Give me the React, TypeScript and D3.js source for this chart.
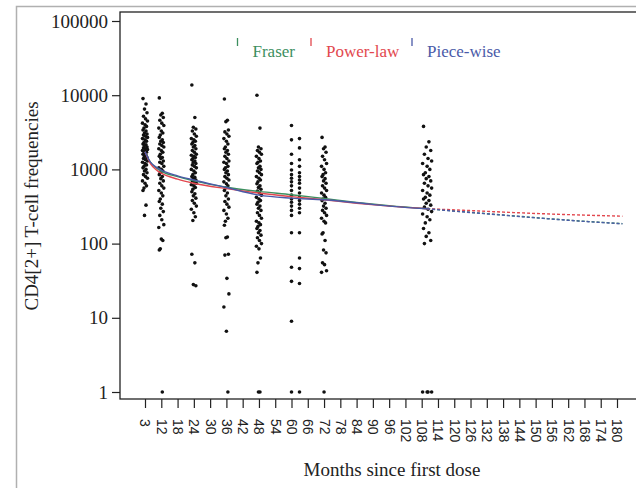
import React, { useEffect, useRef } from "react";
import * as d3 from "d3";

const width = 636;
const height = 488;
const box = { left: 120, top: 12, right: 642, bottom: 399 };
const serif = "Liberation Serif, Times New Roman, serif";

// x tick labels (months)
const tickMonths = [3, 12, 18, 24, 30, 36, 42, 48, 54, 60, 66, 72, 78, 84, 90, 96, 102, 108, 114, 120, 126, 132, 138, 144, 150, 156, 162, 168, 174, 180];
const yTicks = [1, 10, 100, 1000, 10000, 100000];

// observed frequencies per visit
const visits = [3, 12, 24, 36, 48, 60, 72, 110];
const obs3 = [9000, 7600, 6500, 5800, 5200, 4800, 4500, 4200, 4000, 3800, 3600, 3400, 3300, 3100, 3000, 2900, 2800, 2700, 2600, 2500, 2400, 2300, 2200, 2150, 2100, 2000, 1950, 1900, 1850, 1800, 1750, 1700, 1650, 1600, 1550, 1500, 1450, 1400, 1350, 1300, 1250, 1200, 1150, 1100, 1050, 1000, 950, 900, 850, 800, 760, 700, 650, 600, 560, 520, 330, 240];
const obs12 = [9200, 5700, 5400, 5000, 4600, 4200, 3900, 3600, 3300, 3100, 2900, 2700, 2500, 2400, 2300, 2200, 2100, 2000, 1900, 1800, 1700, 1600, 1500, 1450, 1400, 1300, 1250, 1200, 1100, 1050, 1000, 950, 900, 850, 800, 750, 700, 650, 600, 560, 520, 480, 440, 400, 370, 340, 300, 270, 240, 210, 180, 165, 115, 110, 85, 82, 1];
const obs24 = [13700, 5000, 3700, 3500, 3300, 3000, 2800, 2600, 2500, 2400, 2300, 2200, 2100, 2000, 1900, 1800, 1700, 1600, 1550, 1500, 1450, 1400, 1350, 1300, 1250, 1200, 1150, 1100, 1050, 1000, 950, 900, 850, 800, 780, 750, 720, 700, 680, 650, 620, 600, 570, 540, 500, 470, 440, 410, 380, 350, 320, 290, 260, 230, 205, 72, 55, 28, 27];
const obs36 = [8900, 4600, 4400, 3400, 3200, 3000, 2800, 2600, 2400, 2200, 2000, 1900, 1800, 1700, 1600, 1500, 1400, 1300, 1250, 1200, 1100, 1050, 1000, 950, 900, 850, 800, 760, 720, 680, 640, 600, 560, 520, 480, 440, 400, 370, 340, 310, 280, 250, 220, 200, 177, 123, 120, 72, 70, 34, 21, 14, 6.6, 1];
const obs48 = [10000, 3600, 2000, 1900, 1800, 1700, 1600, 1500, 1400, 1300, 1250, 1200, 1100, 1050, 1000, 950, 900, 850, 800, 760, 720, 680, 640, 600, 570, 540, 510, 480, 450, 420, 400, 380, 360, 340, 320, 300, 280, 260, 240, 220, 200, 190, 180, 170, 160, 150, 140, 130, 120, 110, 100, 92, 85, 64, 55, 41, 1, 1];
const obs60 = [3900, 2600, 2500, 1950, 1600, 1350, 1200, 1100, 980, 900, 850, 800, 760, 720, 680, 650, 600, 560, 520, 480, 450, 420, 400, 380, 360, 340, 320, 300, 280, 260, 240, 140, 140, 64, 48, 46, 31, 29, 9, 1, 1];
const obs72 = [2700, 2000, 1900, 1700, 1500, 1350, 1200, 1100, 1000, 900, 850, 800, 750, 700, 650, 600, 560, 520, 480, 450, 420, 400, 380, 350, 320, 300, 280, 260, 240, 220, 200, 190, 140, 135, 110, 82, 75, 55, 52, 43, 41, 1];
const obs108 = [3800, 2350, 2000, 1800, 1600, 1400, 1300, 1200, 1100, 1000, 900, 850, 800, 750, 700, 650, 600, 560, 520, 480, 450, 420, 400, 380, 350, 330, 310, 290, 270, 250, 230, 210, 190, 160, 140, 125, 110, 100, 1, 1, 1, 1];
const observed = [obs3, obs12, obs24, obs36, obs48, obs60, obs72, obs108];

// model fits: solid over observed range, dashed = extrapolation
const fitMonths = [3, 6, 9, 12, 18, 24, 36, 48, 60, 72, 84, 96, 110];
const fraserFit = [1730, 1250, 1050, 940, 800, 700, 575, 505, 455, 405, 360, 325, 295];
const powerFit = [1730, 1200, 1000, 890, 740, 650, 550, 480, 430, 390, 350, 320, 295];
const pieceFit = [1730, 1250, 1080, 980, 820, 720, 570, 450, 410, 390, 355, 320, 295];
const extMonths = [110, 120, 132, 144, 156, 168, 182];
const fraserExt = [295, 275, 253, 233, 215, 200, 186];
const powerExt = [295, 285, 272, 260, 250, 242, 234];
const pieceExt = [295, 274, 252, 232, 214, 199, 185];

const models = [
  { name: "Fraser", color: "#3d8f5f", fit: fraserFit, ext: fraserExt },
  { name: "Power-law", color: "#e2474e", fit: powerFit, ext: powerExt },
  { name: "Piece-wise", color: "#4a5aa8", fit: pieceFit, ext: pieceExt },
];

const jitter = [-2, 1, -0.5, 2, -1.5, 0.5, 2.5, -2.5, 0, 1.5, -1];

export default function App() {
  const ref = useRef<SVGSVGElement>(null);

  useEffect(() => {
    const svg = d3.select(ref.current);
    svg.selectAll("*").remove();

    const x = d3.scaleLinear().domain([3, 12, 180]).range([145, 161.3, 617]);
    const y = d3.scaleLog().domain([1, 100000]).range([392, 21]);

    // outer frame
    svg
      .append("rect")
      .attr("x", 16.5)
      .attr("y", 6.5)
      .attr("width", 640)
      .attr("height", 500)
      .attr("fill", "white")
      .attr("stroke", "#b0b0b0")
      .attr("stroke-width", 1.5);

    // plot box
    svg
      .append("rect")
      .attr("x", box.left)
      .attr("y", box.top)
      .attr("width", box.right - box.left)
      .attr("height", box.bottom - box.top)
      .attr("fill", "none")
      .attr("stroke", "#222")
      .attr("stroke-width", 1.3);

    // y axis
    const yAxis = svg
      .append("g")
      .attr("transform", `translate(${box.left},0)`)
      .call(
        d3
          .axisLeft(y)
          .tickValues(yTicks)
          .tickSize(8)
          .tickPadding(4)
          .tickFormat(d3.format("d"))
      )
      .attr("font-family", serif)
      .attr("font-size", 19);
    yAxis.select(".domain").remove();
    yAxis.selectAll("line").attr("stroke", "#222").attr("stroke-width", 1.2);
    yAxis.selectAll("text").attr("fill", "#222");

    // x axis
    const xAxis = svg
      .append("g")
      .attr("transform", `translate(0,${box.bottom})`)
      .call(d3.axisBottom(x).tickValues(tickMonths).tickSize(9).tickFormat(d3.format("d")))
      .attr("font-family", "Liberation Sans, Arial, sans-serif")
      .attr("font-size", 14);
    xAxis.select(".domain").remove();
    xAxis.selectAll("line").attr("stroke", "#222").attr("stroke-width", 1.2);
    xAxis
      .selectAll("text")
      .attr("transform", "rotate(90)")
      .attr("x", 20)
      .attr("y", 0)
      .attr("dy", "0.36em")
      .attr("text-anchor", "start")
      .attr("fill", "#222");

    // scatter
    const pts = svg.append("g");
    visits.forEach((m, vi) => {
      pts
        .selectAll(null)
        .data(observed[vi])
        .enter()
        .append("circle")
        .attr("cx", (d, i) =>
          m === 60 ? x(m) + (i % 2) * 8 : x(m) + jitter[i % jitter.length] * (m === 110 ? 1.8 : 1)
        )
        .attr("cy", (d) => y(d))
        .attr("r", 1.8)
        .attr("fill", "#111");
    });

    // fitted lines
    const solid = d3
      .line<number>()
      .x((d, i) => x(fitMonths[i]))
      .y((d) => y(d))
      .curve(d3.curveMonotoneX);
    const dashed = d3
      .line<number>()
      .x((d, i) => x(extMonths[i]))
      .y((d) => y(d))
      .curve(d3.curveMonotoneX);

    models.forEach((mdl) => {
      svg
        .append("path")
        .attr("d", solid(mdl.fit))
        .attr("fill", "none")
        .attr("stroke", mdl.color)
        .attr("stroke-width", 1.4);
      svg
        .append("path")
        .attr("d", dashed(mdl.ext))
        .attr("fill", "none")
        .attr("stroke", mdl.color)
        .attr("stroke-width", 1.4)
        .attr("stroke-dasharray", "3,2");
    });

    // legend
    const legendX = [237.5, 311, 412];
    const leg = svg.append("g").attr("font-family", serif).attr("font-size", 17);
    models.forEach((mdl, i) => {
      leg
        .append("line")
        .attr("x1", legendX[i])
        .attr("x2", legendX[i])
        .attr("y1", 38)
        .attr("y2", 46)
        .attr("stroke", mdl.color)
        .attr("stroke-width", 1.3);
      leg
        .append("text")
        .attr("x", legendX[i] + 15)
        .attr("y", 57)
        .attr("fill", mdl.color)
        .text(mdl.name);
    });

    // axis titles
    svg
      .append("text")
      .attr("transform", "translate(38,206) rotate(-90)")
      .attr("text-anchor", "middle")
      .attr("font-family", serif)
      .attr("font-size", 19)
      .attr("fill", "#222")
      .text("CD4[2+] T-cell frequencies");
    svg
      .append("text")
      .attr("x", 392)
      .attr("y", 476)
      .attr("text-anchor", "middle")
      .attr("font-family", serif)
      .attr("font-size", 19)
      .attr("fill", "#222")
      .text("Months since first dose");
  }, []);

  return (
    <svg
      ref={ref}
      width={width}
      height={height}
      style={{ position: "absolute", left: 0, top: 0, background: "white" }}
    />
  );
}
